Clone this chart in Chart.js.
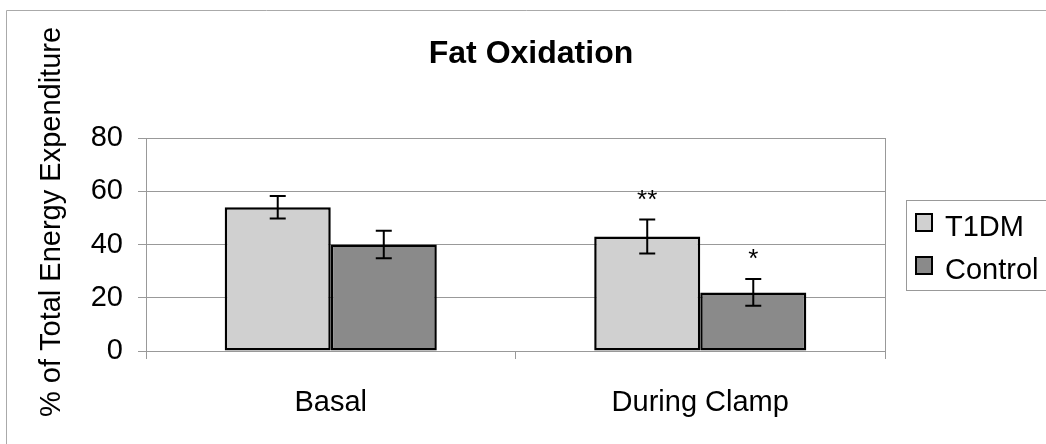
<!DOCTYPE html>
<html>
<head>
<meta charset="utf-8">
<script src="https://cdn.jsdelivr.net/npm/chart.js@4.4.1/dist/chart.umd.min.js"></script>
<style>
  body { margin: 0; background: #fff; }
  canvas { display: block; }
</style>
</head>
<body>
<canvas id="fat-chart" width="1046" height="444"></canvas>
<script>
// Data
const categories = ["Basal", "During Clamp"];
const t1dmValues = [54, 43];
const t1dmErrors = [4.2, 6.4];
const controlValues = [40, 22];
const controlErrors = [5.2, 5];
const t1dmMarks = ["", "**"];
const controlMarks = ["", "*"];
const yTicks = [0, 20, 40, 60, 80];

const FONT = '"Liberation Sans", Arial, sans-serif';

// error bars + significance stars
const errorBars = {
    id: 'errorBars',
    afterDatasetsDraw(chart) {
        const ctx = chart.ctx;
        const y = chart.scales.y;
        chart.data.datasets.forEach((ds, i) => {
            const meta = chart.getDatasetMeta(i);
            meta.data.forEach((bar, j) => {
                const v = ds.data[j], e = ds.errors[j];
                const top = y.getPixelForValue(v + e);
                const bot = y.getPixelForValue(v - e);
                ctx.save();
                ctx.strokeStyle = '#000';
                ctx.lineWidth = 2;
                ctx.beginPath();
                ctx.moveTo(bar.x, top); ctx.lineTo(bar.x, bot);
                ctx.moveTo(bar.x - 8, top); ctx.lineTo(bar.x + 8, top);
                ctx.moveTo(bar.x - 8, bot); ctx.lineTo(bar.x + 8, bot);
                ctx.stroke();
                if (ds.marks[j]) {
                    ctx.fillStyle = '#000';
                    ctx.font = '26px ' + FONT;
                    ctx.textAlign = 'center';
                    ctx.textBaseline = 'middle';
                    ctx.fillText(ds.marks[j], bar.x, top - 19);
                }
                ctx.restore();
            });
        });
    }
};

// background, frame, titles and legend
const decor = {
    id: 'decor',
    beforeDraw(chart) {
        const ctx = chart.ctx;
        ctx.save();
        ctx.fillStyle = '#fff';
        ctx.fillRect(0, 0, chart.width, chart.height);
        ctx.restore();
    },
    afterDraw(chart) {
        const ctx = chart.ctx;
        const area = chart.chartArea;
        ctx.save();
        // outer frame (only left and top are in view)
        ctx.strokeStyle = '#aaa';
        ctx.lineWidth = 1;
        ctx.beginPath();
        ctx.moveTo(6.5, chart.height);
        ctx.lineTo(6.5, 10.5);
        ctx.lineTo(chart.width, 10.5);
        ctx.stroke();
        // plot area right edge
        ctx.strokeStyle = '#999';
        ctx.beginPath();
        ctx.moveTo(area.right + 0.5, area.top);
        ctx.lineTo(area.right + 0.5, area.bottom + 8);
        ctx.stroke();

        // title
        ctx.fillStyle = '#000';
        ctx.font = 'bold 32px ' + FONT;
        ctx.textAlign = 'center';
        ctx.textBaseline = 'middle';
        ctx.fillText('Fat Oxidation', 531, 54);

        // y axis title
        ctx.save();
        ctx.translate(52, 222);
        ctx.rotate(-Math.PI / 2);
        ctx.font = '29px ' + FONT;
        ctx.fillText('% of Total Energy Expenditure', 0, 0);
        ctx.restore();

        // legend
        ctx.strokeStyle = '#999';
        ctx.strokeRect(906.5, 200.5, 200, 90);
        ctx.font = '29px ' + FONT;
        ctx.textAlign = 'left';
        chart.data.datasets.forEach((ds, i) => {
            const cy = 228 + i * 43;
            ctx.fillStyle = ds.backgroundColor;
            ctx.fillRect(916, cy - 14, 16, 17);
            ctx.strokeStyle = '#000';
            ctx.lineWidth = 2;
            ctx.strokeRect(916, cy - 14, 16, 17);
            ctx.fillStyle = '#000';
            ctx.fillText(ds.label, 945, cy);
        });
        ctx.restore();
    }
};

new Chart(document.getElementById('fat-chart'), {
    type: 'bar',
    data: {
        labels: categories,
        datasets: [{
            label: 'T1DM',
            data: t1dmValues,
            errors: t1dmErrors,
            marks: t1dmMarks,
            backgroundColor: '#d0d0d0',
            borderColor: '#000',
            borderWidth: 2.5,
            borderSkipped: false
        }, {
            label: 'Control',
            data: controlValues,
            errors: controlErrors,
            marks: controlMarks,
            backgroundColor: '#8a8a8a',
            borderColor: '#000',
            borderWidth: 2.5,
            borderSkipped: false
        }]
    },
    options: {
        responsive: false,
        animation: false,
        devicePixelRatio: 1,
        layout: { padding: { top: 138, right: 161, bottom: 0, left: 0 } },
        datasets: { bar: { categoryPercentage: 0.574, barPercentage: 1 } },
        plugins: {
            legend: { display: false },
            title: { display: false },
            tooltip: { enabled: false }
        },
        scales: {
            x: {
                afterFit: s => { s.height = 93; },
                grid: { drawOnChartArea: false, offset: true, tickLength: 8, color: '#999' },
                border: { color: '#999' },
                ticks: { color: '#000', font: { family: FONT, size: 29 }, padding: 27 }
            },
            y: {
                min: 0,
                max: 80,
                afterFit: s => { s.width = 146; },
                afterBuildTicks: s => { s.ticks = yTicks.map(v => ({ value: v })); },
                grid: { color: '#999', tickLength: 8 },
                border: { color: '#999' },
                ticks: { color: '#000', font: { family: FONT, size: 29 }, padding: 15 }
            }
        }
    },
    plugins: [decor, errorBars]
});
</script>
</body>
</html>
